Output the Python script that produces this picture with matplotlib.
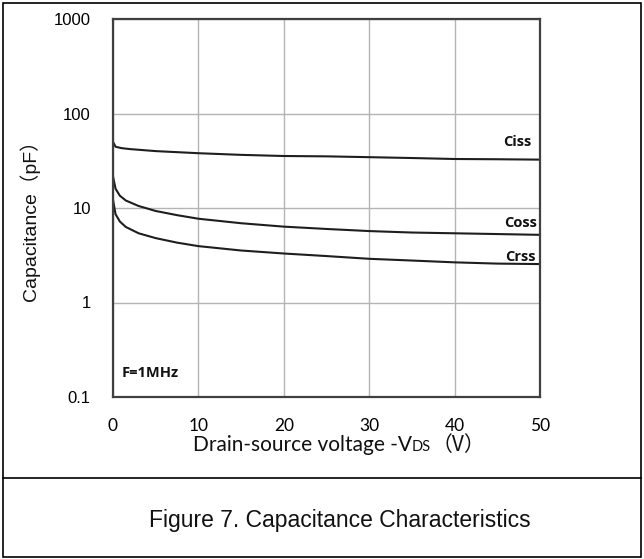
import matplotlib
matplotlib.use("Agg")
import matplotlib.pyplot as plt
from matplotlib.lines import Line2D
from matplotlib.patches import Rectangle

# ---- data ----
vds_ciss = [0, 0.3, 1, 2, 5, 10, 15, 20, 25, 30, 35, 40, 45, 50]
ciss = [50, 44.5, 43, 42, 40, 38, 36.5, 35.5, 35.2, 34.5, 33.8, 33, 32.8, 32.5]
vds = [0, 0.3, 0.8, 1.5, 3, 5, 7.5, 10, 15, 20, 25, 30, 35, 40, 45, 50]
coss = [21.5, 16, 13.5, 12, 10.5, 9.3, 8.4, 7.7, 6.9, 6.35, 6.0, 5.7, 5.5, 5.4, 5.3, 5.2]
crss = [12.2, 8.6, 7.2, 6.3, 5.4, 4.8, 4.3, 3.95, 3.55, 3.3, 3.1, 2.9, 2.78, 2.66, 2.58, 2.55]
xticks = [0, 10, 20, 30, 40, 50]
yticks = [0.1, 1, 10, 100, 1000]
ytick_labels = ["0.1", "1", "10", "100", "1000"]

W, H = 644, 559
fig = plt.figure(figsize=(W / 100, H / 100), dpi=100)

def fx(px):
    return px / W

def fy(py):
    return 1 - py / H

# outer frame and divider
fig.patches.append(Rectangle((fx(3), fy(557)), fx(638), 554 / H, transform=fig.transFigure,
                             fill=False, edgecolor="#000000", linewidth=1.2))
fig.lines.append(Line2D([fx(3), fx(641)], [fy(478), fy(478)], transform=fig.transFigure,
                        color="#000000", linewidth=1.2))

ax = fig.add_axes([fx(113), fy(397), fx(540 - 113), (397 - 19) / H])
ax.set_yscale("log")
ax.set_xlim(0, 50)
ax.set_ylim(0.1, 1000)

line_kw = dict(color="#1e1e1e", linewidth=1.5)
ax.plot(vds_ciss, ciss, **line_kw)
ax.plot(vds, coss, **line_kw)
ax.plot(vds, crss, **line_kw)

ax.set_xticks(xticks)
ax.set_xticklabels([str(v) for v in xticks])
ax.set_yticks(yticks)
ax.set_yticklabels(ytick_labels)
ax.minorticks_off()
ax.tick_params(axis="x", length=0, pad=15, labelsize=12.5)
ax.tick_params(axis="y", length=0, pad=16, labelsize=12)
for lab in ax.get_xticklabels():
    lab.set_fontfamily("Lato")
for lab in ax.get_yticklabels():
    lab.set_fontfamily("Liberation Sans")
ax.grid(True, which="major", color="#b4b4b4", linewidth=1.0)
ax.set_axisbelow(True)
for sp in ax.spines.values():
    sp.set_color("#404040")
    sp.set_linewidth(1.6)

lab_kw = dict(fontsize=10.5, fontweight="bold", family="Open Sans", ha="right", va="center",
              color="#111111")
ax.text(49.0, 50, "Ciss", **lab_kw)
ax.text(49.7, 7.0, "Coss", **lab_kw)
ax.text(49.5, 3.05, "Crss", **lab_kw)
ax.text(1.0, 0.18, "F=1MHz", fontsize=10.5, fontweight="bold", family="Open Sans",
        ha="left", va="center", color="#111111")

# y label
fig.text(fx(30), fy(216), "Capacitance（pF）", rotation=90, ha="center", va="center",
         fontsize=14, family=["Liberation Sans", "Noto Sans CJK SC"], color="#111111")

# x label composed of pieces sharing one baseline
renderer = fig.canvas.get_renderer()
base_y = fy(451)
x0 = 193
pieces = [("Drain-source voltage -V", 15, ["Lato"]),
          ("DS", 10.5, ["Lato"]),
          ("（V）", 15, ["Noto Sans CJK SC"])]
for txt, size, fam in pieces:
    t = fig.text(fx(x0), base_y, txt, ha="left", va="baseline", fontsize=size,
                 family=fam, color="#111111")
    x0 = t.get_window_extent(renderer).x1

fig.text(fx(340), fy(520), "Figure 7. Capacitance Characteristics", ha="center", va="center",
         fontsize=16.5, family="Liberation Sans", color="#111111")

fig.savefig("out.png", dpi=100)
